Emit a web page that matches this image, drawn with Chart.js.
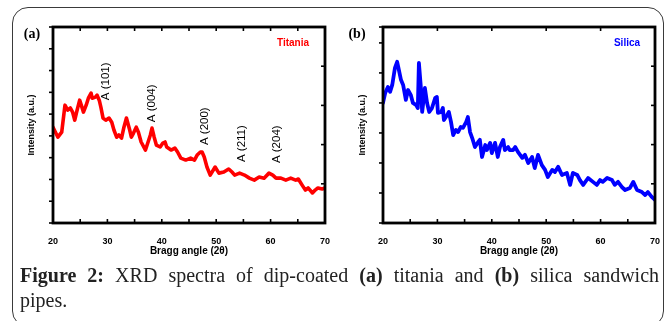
<!DOCTYPE html>
<html><head><meta charset="utf-8">
<script src="https://cdn.jsdelivr.net/npm/chart.js@4/dist/chart.umd.min.js"></script>
<style>
html,body{margin:0;padding:0;background:#fff;}
#wrap{position:relative;width:670px;height:321px;overflow:hidden;background:#fff;}
#frame{position:absolute;left:12px;top:7px;width:652px;height:320px;border:1.5px solid #3a3a3a;border-radius:16px;box-sizing:border-box;}
#c1{position:absolute;left:0;top:0;}
#c2{position:absolute;left:335px;top:0;}
#cap{position:absolute;left:20px;top:263px;width:639px;font-family:"Liberation Serif","Times New Roman",serif;font-size:20px;line-height:25px;color:#222;}
.l1{text-align:justify;text-align-last:justify;}
</style></head>
<body><div id="wrap"><div id="frame"></div>
<canvas id="c1" width="335" height="265"></canvas>
<canvas id="c2" width="330" height="265"></canvas>
<div id="cap"><div class="l1"><b>Figure 2:</b> XRD spectra of dip-coated <b>(a)</b> titania and <b>(b)</b> silica sandwich</div><div>pipes.</div></div>
</div>
<script>
const titaniaAngle = [20.0,20.9,21.6,22.2,22.7,23.2,23.6,24.0,24.3,24.9,25.2,25.6,26.1,26.5,27.0,27.2,27.8,28.1,28.5,28.8,29.2,29.7,30.3,30.8,31.2,31.7,32.1,32.6,33.0,33.5,34.1,34.4,34.8,35.3,35.7,36.2,37.0,37.3,37.9,38.2,38.6,39.0,39.7,40.2,40.6,40.9,41.7,42.4,42.9,43.5,44.4,45.3,46.0,46.5,47.1,47.4,47.8,48.3,48.9,49.8,50.5,51.4,52.3,52.9,53.4,54.3,55.2,56.1,57.0,57.9,58.8,59.7,60.4,61.0,61.9,62.8,63.7,64.6,65.1,65.8,66.4,66.9,67.7,68.2,68.7,69.5,70.0];
const titaniaIntensity = [4.40,3.94,4.17,5.41,5.18,5.28,5.09,4.72,5.05,5.64,5.41,5.09,5.41,5.73,5.96,5.73,5.78,5.87,5.64,5.32,4.82,4.72,4.82,4.63,4.27,3.94,4.04,3.90,4.36,4.82,4.27,3.94,4.13,4.40,4.17,3.72,3.35,3.58,4.04,4.36,3.94,3.58,3.49,3.67,3.72,3.49,3.35,3.44,3.26,2.98,2.89,2.98,2.89,3.12,3.26,3.26,3.03,2.57,2.20,2.57,2.29,2.34,2.48,2.34,2.20,2.29,2.20,2.06,1.97,2.11,2.06,2.29,2.20,2.06,2.06,1.97,2.06,1.97,2.02,1.74,1.51,1.61,1.38,1.51,1.61,1.56,1.61];
const silicaAngle = [20.0,20.4,20.9,21.3,21.7,22.2,22.6,22.8,23.3,23.7,24.2,24.6,25.1,25.5,26.1,26.4,26.6,27.0,27.2,27.7,28.1,28.5,29.0,29.6,29.9,30.1,30.7,31.0,31.2,31.8,32.1,32.5,32.9,33.4,33.8,34.3,34.7,35.3,35.6,36.0,36.4,36.9,37.5,37.8,38.2,38.8,39.1,39.7,40.0,40.6,41.1,41.5,42.1,42.4,43.0,43.3,43.9,44.3,44.8,45.6,46.1,46.7,47.4,47.9,48.5,49.2,49.8,50.3,51.1,51.6,52.2,52.9,53.8,54.4,54.9,55.7,56.2,56.8,57.7,58.6,59.3,59.9,60.4,61.2,62.1,62.6,63.2,63.9,64.5,65.4,66.0,66.7,67.6,68.2,68.7,69.4,70.0];
const silicaIntensity = [4.00,4.33,4.53,4.37,4.60,5.17,5.37,5.20,4.77,4.60,4.10,4.43,4.27,4.00,3.93,3.83,5.33,4.43,3.70,4.50,4.00,3.70,3.83,4.17,4.20,3.67,3.70,3.83,3.43,3.60,3.70,3.37,2.93,3.10,3.03,3.20,3.17,3.37,3.53,3.03,2.83,2.53,2.70,2.77,2.20,2.60,2.43,2.67,2.33,2.67,2.20,2.53,2.77,2.43,2.53,2.43,2.43,2.53,2.37,2.17,2.27,2.00,2.20,1.83,2.27,1.93,1.77,1.53,1.77,1.70,1.87,1.60,1.67,1.27,1.67,1.60,1.43,1.27,1.50,1.37,1.27,1.43,1.37,1.50,1.43,1.27,1.37,1.20,1.10,1.17,1.37,1.10,1.03,0.93,1.03,0.87,0.77];
const xTickLabels = [20,30,40,50,60,70];
const titaniaPeakLabels = ['A (101)','A (004)','A (200)','A (211)','A (204)'];
const titaniaPeakAngle = [29.7,38.2,48.0,54.65,61.2];
const titaniaPeakLevel = [5.64,4.63,3.58,2.80,2.75];

const SANS = 'Arial, "Liberation Sans", sans-serif';
Chart.defaults.font.family = SANS;
Chart.defaults.color = '#000';

const framePlugin = {
  id: 'frame',
  afterDatasetsDraw(chart, args, o) {
    const ctx = chart.ctx, a = chart.chartArea, L = 4;
    ctx.save();
    ctx.strokeStyle = '#000';
    ctx.lineWidth = 1.6;
    for (const [id, dir] of Object.entries(o.ticks)) {
      const s = chart.scales[id];
      s.ticks.forEach(t => {
        const p = s.getPixelForValue(t.value);
        ctx.beginPath();
        if (s.position === 'left') { ctx.moveTo(a.left, p); ctx.lineTo(dir === 'out' ? a.left - L : a.left + L, p); }
        else if (s.position === 'right') { ctx.moveTo(a.right, p); ctx.lineTo(dir === 'out' ? a.right + L : a.right - L, p); }
        else if (s.position === 'top') { ctx.moveTo(p, a.top); ctx.lineTo(p, dir === 'out' ? a.top - L : a.top + L); }
        else { ctx.moveTo(p, a.bottom); ctx.lineTo(p, dir === 'out' ? a.bottom + L : a.bottom - L); }
        ctx.stroke();
      });
    }
    ctx.lineWidth = 2.8;
    ctx.strokeRect(a.left, a.top, a.right - a.left, a.bottom - a.top);
    ctx.fillStyle = '#000';
    ctx.font = 'bold 14px "Liberation Serif", serif';
    ctx.textAlign = 'center'; ctx.textBaseline = 'middle';
    ctx.fillText(o.panel, a.left + o.panelDx, a.top + 7);
    ctx.fillStyle = o.color;
    ctx.font = 'bold 10px ' + SANS;
    ctx.fillText(o.name, a.right + o.nameDx, a.top + 16);
    if (o.peaks) {
      const xs = chart.scales.x, ys = chart.scales.y;
      ctx.fillStyle = '#000';
      ctx.font = '11.5px ' + SANS;
      ctx.textAlign = 'left';
      o.peaks.labels.forEach((lab, i) => {
        ctx.save();
        ctx.translate(xs.getPixelForValue(o.peaks.angle[i]), ys.getPixelForValue(o.peaks.level[i]));
        ctx.rotate(-Math.PI / 2);
        ctx.fillText(lab, 0, 0);
        ctx.restore();
      });
    }
    ctx.restore();
  }
};

function makeChart(el, cfg) {
  const tickFont = {family: SANS, size: 9, weight: 'bold'};
  return new Chart(document.getElementById(el), {
    type: 'line',
    data: {datasets: [{
      data: cfg.xs.map((x, i) => ({x, y: cfg.ys[i]})),
      borderColor: cfg.color, borderWidth: cfg.lw, pointRadius: 0, tension: 0, fill: false,
      borderJoinStyle: 'round', borderCapStyle: 'round'
    }]},
    options: {
      responsive: false, animation: false, devicePixelRatio: 1,
      layout: {padding: 0},
      plugins: {legend: {display: false}, tooltip: {enabled: false},
        frame: {ticks: {x: 'in', xTop: 'in', y: 'out', yRight: 'in'}, panel: cfg.panel, panelDx: cfg.panelDx,
                name: cfg.name, nameDx: cfg.nameDx, color: cfg.color, peaks: cfg.peaks}},
      scales: {
        x: {type: 'linear', position: 'bottom', min: 20, max: 70,
            ticks: {stepSize: 5, padding: 5, autoSkip: false, maxRotation: 0, font: tickFont, color: '#000',
                    callback: v => xTickLabels.includes(v) ? String(v) : ''},
            grid: {display: false}, border: {display: false},
            title: {display: true, text: 'Bragg angle (2θ)', color: '#000', font: {family: SANS, size: 10, weight: 'bold'}, padding: {top: 0, bottom: 8}},
            afterFit: s => { s.height = 42; }},
        xTop: {type: 'linear', position: 'top', min: 20, max: 70,
            ticks: {display: false, stepSize: cfg.topStep}, grid: {display: false}, border: {display: false},
            afterFit: s => { s.height = 27; }},
        y: {type: 'linear', position: 'left', min: 0, max: cfg.yMax,
            ticks: {display: false, stepSize: 1}, grid: {display: false}, border: {display: false},
            title: {display: true, text: 'Intensity (a.u.)', color: '#000', font: {family: SANS, size: 9, weight: 'bold'}, padding: {top: cfg.titlePad, bottom: 0}},
            afterFit: s => { s.width = cfg.leftW; }},
        yRight: {type: 'linear', position: 'right', min: 0, max: 5,
            ticks: {display: false, stepSize: 1}, grid: {display: false}, border: {display: false},
            afterFit: s => { s.width = cfg.rightW; }}
      }
    },
    plugins: [framePlugin]
  });
}

makeChart('c1', {xs: titaniaAngle, ys: titaniaIntensity, color: 'rgb(255,0,0)', lw: 3.6, yMax: 9, topStep: 5,
  leftW: 53, rightW: 5, titlePad: 26, panel: '(a)', panelDx: -21, name: 'Titania', nameDx: -32,
  peaks: {labels: titaniaPeakLabels, angle: titaniaPeakAngle, level: titaniaPeakLevel}});
makeChart('c2', {xs: silicaAngle, ys: silicaIntensity, color: 'rgb(0,0,255)', lw: 3.8, yMax: 6.53, topStep: 10,
  leftW: 48, rightW: 10, titlePad: 22, panel: '(b)', panelDx: -26, name: 'Silica', nameDx: -28, peaks: null});
</script>
</body></html>
